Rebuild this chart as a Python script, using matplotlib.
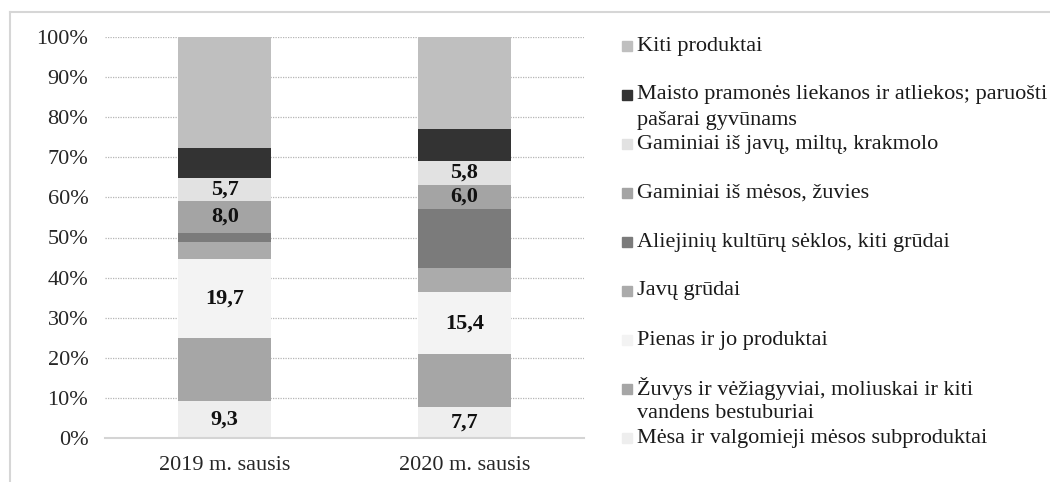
import matplotlib
matplotlib.use('Agg')
import matplotlib.pyplot as plt
import numpy as np
from matplotlib.ticker import PercentFormatter
from matplotlib.patches import Rectangle
from matplotlib.lines import Line2D

plt.rcParams['font.family'] = ['Liberation Serif', 'DejaVu Serif']

categories = ['2019 m. sausis', '2020 m. sausis']

# stack order, bottom to top (shares, %)
names = ['Mėsa ir valgomieji mėsos subproduktai',
         'Žuvys ir vėžiagyviai, moliuskai ir kiti\nvandens bestuburiai',
         'Pienas ir jo produktai',
         'Javų grūdai',
         'Aliejinių kultūrų sėklos, kiti grūdai',
         'Gaminiai iš mėsos, žuvies',
         'Gaminiai iš javų, miltų, krakmolo',
         'Maisto pramonės liekanos ir atliekos; paruošti\npašarai gyvūnams',
         'Kiti produktai']
mesa = [9.3, 7.7]
zuvys = [15.6, 13.2]
pienas = [19.7, 15.4]
javu_grudai = [4.2, 6.1]
aliejiniu = [2.3, 14.8]
gam_mesos = [8.0, 6.0]
gam_javu = [5.7, 5.8]
maisto = [7.6, 8.0]
kiti = [27.6, 23.0]
series = [mesa, zuvys, pienas, javu_grudai, aliejiniu, gam_mesos, gam_javu, maisto, kiti]
labelled = [True, False, True, False, False, True, True, False, False]

colors = ['#eeeeee', '#a6a6a6', '#f3f3f3', '#ababab', '#7b7b7b',
          '#a4a4a4', '#e2e2e2', '#333333', '#bfbfbf']

W, H = 1050, 482
fig = plt.figure(figsize=(W / 100, H / 100), dpi=100)
ax = fig.add_axes([105 / W, 1 - 438 / H, (584 - 105) / W, (438 - 37) / H])

x = np.arange(len(categories))
bottom = np.zeros(len(categories))
for vals, col, lab in zip(series, colors, labelled):
    vals = np.array(vals)
    ax.bar(x, vals, 0.39, bottom=bottom, color=col, zorder=2)
    if lab:
        for xi, b, v in zip(x, bottom, vals):
            ax.text(xi, b + v / 2, f'{v:.1f}'.replace('.', ','), ha='center', va='center',
                    fontsize=16, fontweight='bold', color='#111111', zorder=3)
    bottom += vals

ax.set_xlim(-0.5, 1.5)
ax.set_ylim(0, 100)
ax.set_yticks(np.arange(0, 101, 10))
ax.yaxis.set_major_formatter(PercentFormatter(decimals=0))
ax.set_xticks(x)
ax.set_xticklabels(categories)
ax.tick_params(axis='y', length=0, pad=12, labelsize=16, labelcolor='#262626')
ax.tick_params(axis='x', length=0, pad=13, labelsize=16, labelcolor='#262626')
ax.yaxis.grid(True, color='#b5b5b5', linestyle=(0, (1, 1)), linewidth=0.9, zorder=0)
for s in ['top', 'right', 'left']:
    ax.spines[s].set_visible(False)
ax.spines['bottom'].set_color('#d4d4d4')
ax.spines['bottom'].set_linewidth(1.5)

# legend drawn by hand: Excel keeps fixed slots
for i, (name, col) in enumerate(zip(names[::-1], colors[::-1])):
    yc = 46 + 49 * i
    fig.patches.append(Rectangle((622 / W, 1 - (yc + 5) / H), 10 / W, 10 / H,
                                 transform=fig.transFigure, color=col))
    for j, line in enumerate(name.split('\n')):
        fig.text(637 / W, 1 - (yc + 25 * j) / H, line, ha='left', va='center',
                 fontsize=16, color='#1a1a1a')

# outer frame
fig.add_artist(Line2D([10 / W, 10 / W], [0, 1 - 12 / H], transform=fig.transFigure,
                      color='#d6d6d6', linewidth=1.5))
fig.add_artist(Line2D([10 / W, 1], [1 - 12 / H, 1 - 12 / H], transform=fig.transFigure,
                      color='#d6d6d6', linewidth=1.5))

fig.savefig('out.png', dpi=100)
